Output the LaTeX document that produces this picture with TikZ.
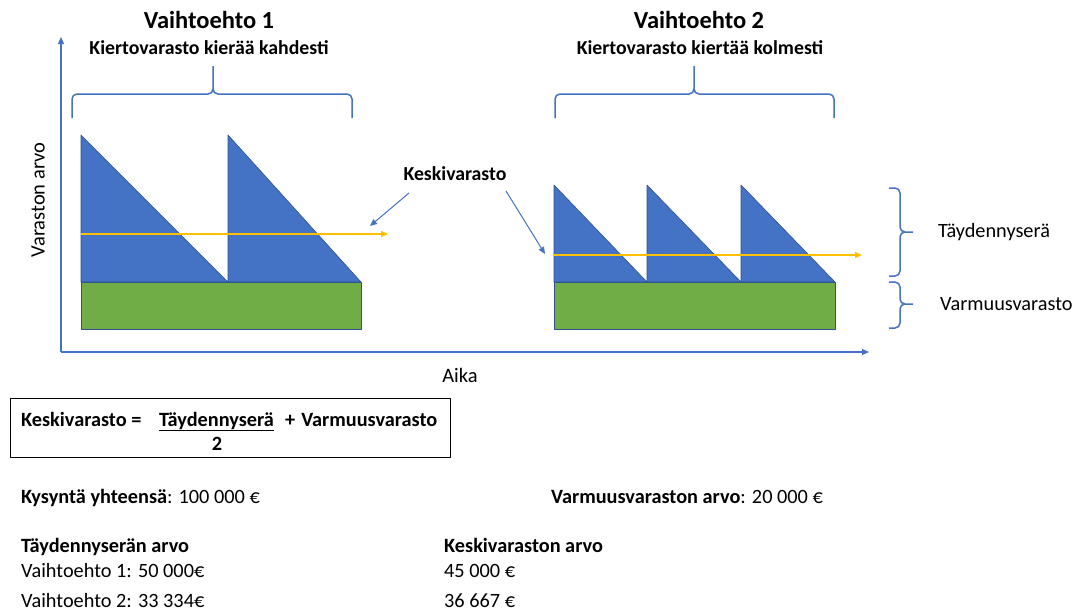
\documentclass[tikz,border=0pt]{standalone}
\usepackage{fontspec}
\setmainfont{Carlito}
\usetikzlibrary{arrows.meta}
\definecolor{vsin}{HTML}{4472C4}
\definecolor{vreuna}{HTML}{2F528F}
\definecolor{vvihr}{HTML}{70AD47}
\definecolor{vkelt}{HTML}{FFC000}
\begin{document}
\begin{tikzpicture}[x=1pt, y=-1pt, line join=round, >={Triangle[length=7pt,width=6pt]},
	akseli/.style={vsin, line width=1.2pt, ->},
	sulje/.style={vsin, line width=1.5pt, rounded corners=5pt},
	kolmio/.style={fill=vsin, draw=vreuna, line width=0.6pt},
	varmuus/.style={fill=vvihr, draw=vreuna, line width=0.8pt},
	keski/.style={vkelt, line width=1.4pt, ->},
	nuoli/.style={vsin, line width=1pt, ->},
	teksti/.style={font=\fontsize{20.3}{24}\selectfont, inner sep=0pt, anchor=base west},
	lihava/.style={teksti, font=\bfseries\fontsize{20.3}{24}\selectfont},
	otsikko/.style={font=\bfseries\fontsize{24.5}{28}\selectfont, inner sep=0pt},
	ali/.style={font=\bfseries\fontsize{19.8}{24}\selectfont, inner sep=0pt}]
	\useasboundingbox (0,0) rectangle (1079,613);
	\coordinate (O) at (61,352); \coordinate (ykarki) at (61,37); \coordinate (xkarki) at (869,352);
	\draw[akseli] (O)--(ykarki); \draw[akseli] (O)--(xkarki);
	\node[font=\fontsize{20.5}{24}\selectfont, rotate=90] (yakseli) at (38,200) {Varaston arvo};
	\node[font=\fontsize{20.5}{24}\selectfont] (aika) at (460,375) {Aika};
	\fill[varmuus] (81,282) rectangle (361,329);
	\fill[kolmio] (81,135)--(228,282)--(81,282)--cycle (228,135)--(361,282)--(228,282)--cycle;
	\draw[keski] (81,234)--(388,234);
	\fill[varmuus] (554,282) rectangle (835,329);
	\fill[kolmio] (554,185)--(647,282)--(554,282)--cycle (647,185)--(741,282)--(647,282)--cycle (741,185)--(835,282)--(741,282)--cycle;
	\draw[keski] (554,255)--(862,255);
	\node[otsikko] (v1) at (209,20) {Vaihtoehto 1};
	\node[ali] (k1) at (209,48) {Kiertovarasto kierää kahdesti};
	\node[otsikko] (v2) at (699,20) {Vaihtoehto 2};
	\node[ali] (k2) at (700,48) {Kiertovarasto kiertää kolmesti};
	\draw[sulje] (72,118)--(72,94)--(213,94)--(213,66) (352,118)--(352,94)--(213,94)--(213,66);
	\draw[sulje] (555,118)--(555,94)--(694,94)--(694,66) (834,118)--(834,94)--(694,94)--(694,66);
	\draw[sulje] (889,188)--(900,188)--(900,232)--(913,232) (889,276)--(900,276)--(900,232)--(913,232);
	\draw[sulje] (889,282)--(900,282)--(900,304)--(913,304) (889,328)--(900,328)--(900,304)--(913,304);
	\node[teksti, anchor=west] (tayd) at (938,232) {Täydennyserä};
	\node[teksti, anchor=west] (varm) at (940,304) {Varmuusvarasto};
	\node[ali] (keski) at (455,174) {Keskivarasto};
	\coordinate (k1p) at (370,226); \coordinate (k2p) at (545,254);
	\draw[nuoli] (409,193)--(k1p); \draw[nuoli] (506,191)--(k2p);
	\node[draw, line width=1pt, minimum width=440pt, minimum height=59pt, inner sep=0pt] (kaava) at (230,428) {};
	\node[lihava] (kv) at (21,426) {Keskivarasto =};
	\node[lihava] (osoittaja) at (159,426) {Täydennyserä};
	\draw[line width=1pt] ([yshift=-1pt]osoittaja.south west)--([yshift=-1pt]osoittaja.south east);
	\node[lihava, anchor=base] (nimittaja) at (217,450) {2};
	\node[lihava] (plus) at (285,426) {+\hspace{6pt}Varmuusvarasto};
	\node[teksti] (kys) at (21,503) {\textbf{Kysyntä yhteensä}: 100 000 €};
	\node[teksti] (varmarvo) at (551,503) {\textbf{Varmuusvaraston arvo}: 20 000 €};
	\node[lihava] (taydarvo) at (21,552) {Täydennyserän arvo};
	\node[teksti] (t1) at (21,577) {Vaihtoehto 1: 50 000€};
	\node[teksti] (t2) at (21,607) {Vaihtoehto 2: 33 334€};
	\node[lihava] (keskiarvo) at (444,552) {Keskivaraston arvo};
	\node[teksti] (a1) at (444,577) {45 000 €};
	\node[teksti] (a2) at (444,607) {36 667 €};
\end{tikzpicture}
\end{document}
